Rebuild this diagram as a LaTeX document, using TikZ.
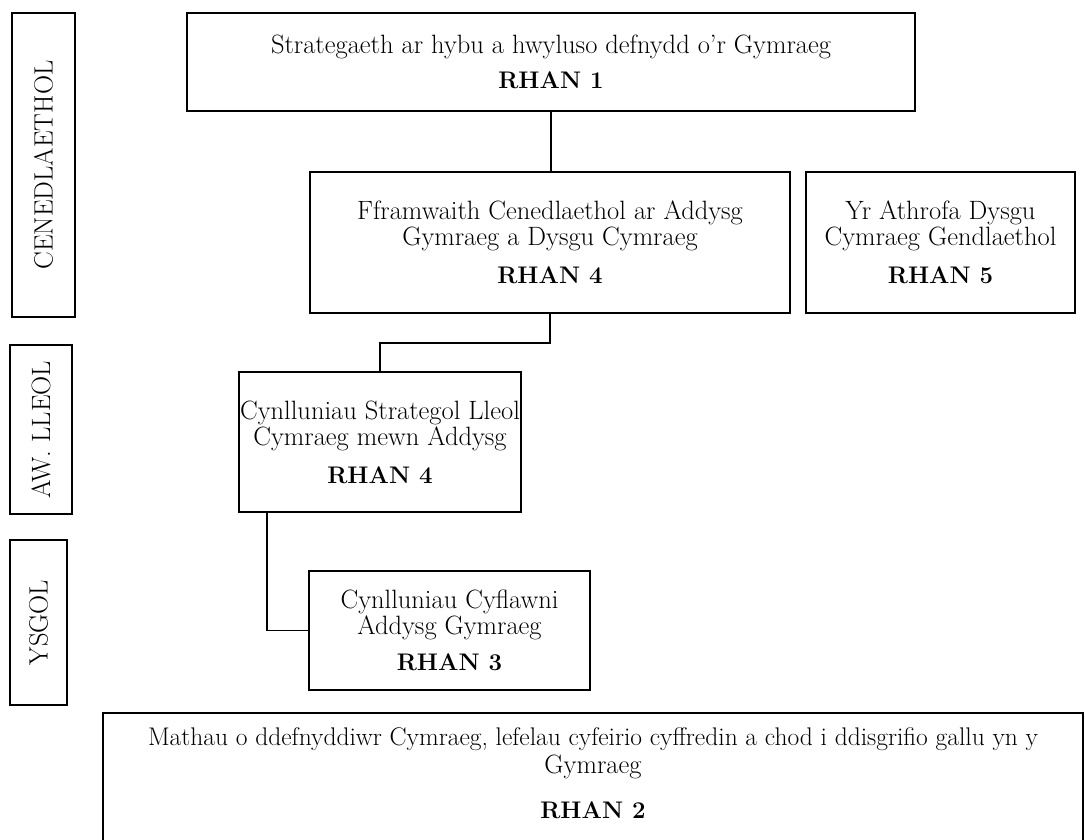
\documentclass[tikz,border=0pt]{standalone}
\usepackage{fontspec}
\usetikzlibrary{positioning}
\tikzset{%
  box/.style = {
    draw = black,
    line width = 1.6pt,
    align = center,
    inner sep = 0pt,
    font = \fontsize{26.5}{26}\selectfont,
  },
  sidebox/.style = {
    box,
    rotate = 90,
  },
  link/.style = {
    line width = 1.6pt,
  },
}
\newcommand{\rhan}[1]{\textbf{\fontsize{24}{26}\selectfont RHAN #1}}

\begin{document}
\begin{tikzpicture}[x=1pt, y=-1pt]
  \useasboundingbox (0,0) rectangle (1085,840);

  % levels down the left side
  \node[sidebox, minimum width=304, minimum height=63] (cen)   at (43.5,165)   {CENEDLAETHOL};
  \node[sidebox, minimum width=169, minimum height=62] (lleol) at (41,429.5)   {AW. LLEOL};
  \node[sidebox, minimum width=165, minimum height=57] (ysgol) at (38.5,622.5) {YSGOL};
  \draw[line width=2.4pt] ([xshift=18pt, yshift=1pt]cen.north west) -- ++(18,0);

  % parts
  \node[box, minimum width=728, minimum height=98]  (rhan1) at (551,62)
    {Strategaeth ar hybu a hwyluso defnydd o'r Gymraeg\\[9pt] \rhan{1}};
  \node[box, minimum width=480, minimum height=141] (fram) at (550,242.5)
    {Fframwaith Cenedlaethol ar Addysg\\ Gymraeg a Dysgu Cymraeg\\[12pt] \rhan{4}};
  \node[box, minimum width=269, minimum height=141] (athrofa) at (940.5,242.5)
    {Yr Athrofa Dysgu\\ Cymraeg Gendlaethol\\[12pt] \rhan{5}};
  \node[box, minimum width=282, minimum height=140] (strat) at (380,442)
    {Cynlluniau Strategol Lleol\\ Cymraeg mewn Addysg\\[12pt] \rhan{4}};
  \node[box, minimum width=281, minimum height=119] (cyfl) at (449.5,630.5)
    {Cynlluniau Cyflawni\\ Addysg Gymraeg\\[10pt] \rhan{3}};
  \node[box, minimum width=980, minimum height=130, text depth=10pt, anchor=north] (mathau) at (593,712)
    {\fontsize{25.5}{26}\selectfont Mathau o ddefnyddiwr Cymraeg, lefelau cyfeirio cyffredin a chod i ddisgrifio gallu yn y\\[2pt]
     Gymraeg\\[19pt] \rhan{2}};

  % links
  \draw[link] (rhan1.south) -- (rhan1.south |- fram.north);
  \draw[link] (fram.south) -- ++(0,29) -| (strat.north);
  \draw[link] ([xshift=29pt]strat.south west) |- (cyfl.west);
\end{tikzpicture}
\end{document}
